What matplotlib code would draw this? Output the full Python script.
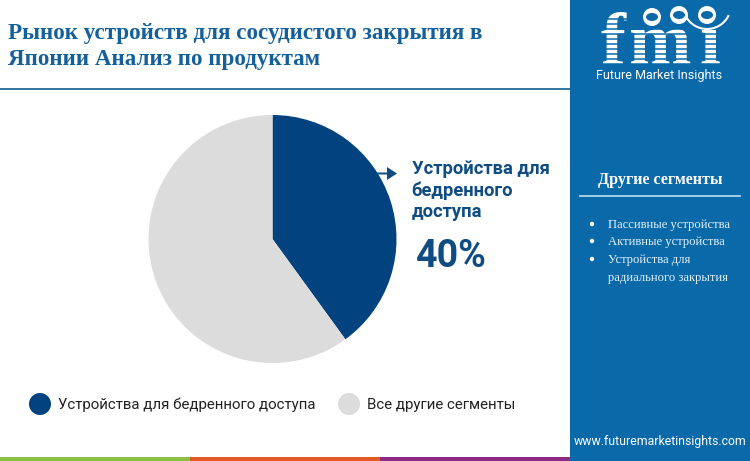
import matplotlib
matplotlib.use("Agg")
import matplotlib.pyplot as plt
from matplotlib.patches import Rectangle, Circle, Ellipse, FancyArrow, Arc

W, H = 750, 461
title_lines = ["Рынок устройств для сосудистого закрытия в", "Японии Анализ по продуктам"]
categories = ["Устройства для бедренного доступа", "Все другие сегменты"]
values = [40, 60]
colors = ["#02427F", "#DCDCDC"]
callout_lines = ["Устройства для", "бедренного", "доступа"]
callout_value = "40%"
other_title = "Другие сегменты"
other_items = ["Пассивные устройства", "Активные устройства", "Устройства для", "радиального закрытия"]
footer_colors = ["#8DBF45", "#E45A24", "#8C2A85"]
site = "www.futuremarketinsights.com"
PANEL = "#0A69A8"

fig = plt.figure(figsize=(W / 100, H / 100), dpi=100, facecolor="white")
bg = fig.add_axes([0, 0, 1, 1])
bg.set_xlim(0, W)
bg.set_ylim(H, 0)
bg.axis("off")

# side panel and header rule
bg.add_patch(Rectangle((570, 0), 180, H, fc=PANEL, ec="none"))
bg.plot([0, 570], [89.5, 89.5], color="#0F5C92", lw=1.2)
for i, c in enumerate(footer_colors):
    bg.add_patch(Rectangle((i * 190, 456.5), 190, 4.5, fc=c, ec="none"))

# title
for i, t in enumerate(title_lines):
    bg.text(8, 33 + i * 26, t, family="Liberation Serif", weight="bold", fontsize=16.6,
            color="#14609A", va="center", ha="left")

# pie
R = 124
cx, cy = 272.5, 239
pie_ax = fig.add_axes([(cx - R) / W, 1 - (cy + R) / H, 2 * R / W, 2 * R / H])
pie_ax.pie(values, colors=colors, startangle=90, counterclock=False, radius=1)
pie_ax.set_xlim(-1, 1)
pie_ax.set_ylim(-1, 1)

# overlay for annotations
ov = fig.add_axes([0, 0, 1, 1])
ov.set_xlim(0, W)
ov.set_ylim(H, 0)
ov.axis("off")
ov.patch.set_alpha(0)
ov.add_patch(FancyArrow(376, 173.5, 21, 0, width=2, head_width=13, head_length=10,
                        length_includes_head=True, fc="#0F4C81", ec="none"))
for i, t in enumerate(callout_lines):
    ov.text(411.5, 169 + i * 21.5, t, family="Roboto", weight="bold", fontsize=13.2,
            color="#0F4C81", va="center", ha="left")
ov.text(416, 256, callout_value, family="Roboto", weight="bold", fontsize=27,
        color="#0F4C81", va="center", ha="left")

# legend
ov.add_patch(Ellipse((40, 404), 22, 22, fc=colors[0], ec="none"))
ov.text(58, 405, categories[0], family="Roboto", fontsize=10.8, color="#222222", va="center")
ov.add_patch(Ellipse((349, 404), 22, 22, fc=colors[1], ec="none"))
ov.text(367, 405, categories[1], family="Roboto", fontsize=10.8, color="#222222", va="center")

# side panel text
ov.text(660.5, 180, other_title, family="Liberation Serif", weight="bold", fontsize=11.65,
        color="white", va="center", ha="center")
ov.plot([580, 740], [195.5, 195.5], color="#BFE0F5", lw=1.2)
for y, t in zip([224.5, 242, 260, 278], other_items):
    ov.text(607.5, y, t, family="Liberation Serif", fontsize=9.1, color="#E4F1FA", va="center")
for y in [224, 241, 259]:
    ov.add_patch(Circle((592, y), 2.2, fc="white", ec="none"))
ov.text(660.5, 441, site, family="Roboto", fontsize=8.8, color="white", va="center", ha="center")

# logo
for x, letter in [(613, "f"), (660, "m"), (710, "ı")]:
    ov.text(x, 64, letter, family="Liberation Serif", weight="bold", fontsize=54, color="white",
            va="baseline", ha="center", zorder=3)
for y in range(19, 65, 5):
    ov.plot([590, 730], [y, y], color=PANEL, lw=1.1, zorder=3.5)
ov.add_patch(Arc((707, 5), 48, 48, theta1=25, theta2=155, color="white", lw=1.5, zorder=3.6))
for x, y in [(652, 17), (679, 15), (707, 15)]:
    ov.add_patch(Circle((x, y), 9, fc="white", ec="none", zorder=4))
    ov.add_patch(Ellipse((x, y), 12, 8, fc=PANEL, ec="none", zorder=5))
ov.text(659, 75, "Future Market Insights", family="Roboto", fontsize=9.0, color="white",
        va="center", ha="center", zorder=6)

fig.savefig("out.png", dpi=100, facecolor="white")
